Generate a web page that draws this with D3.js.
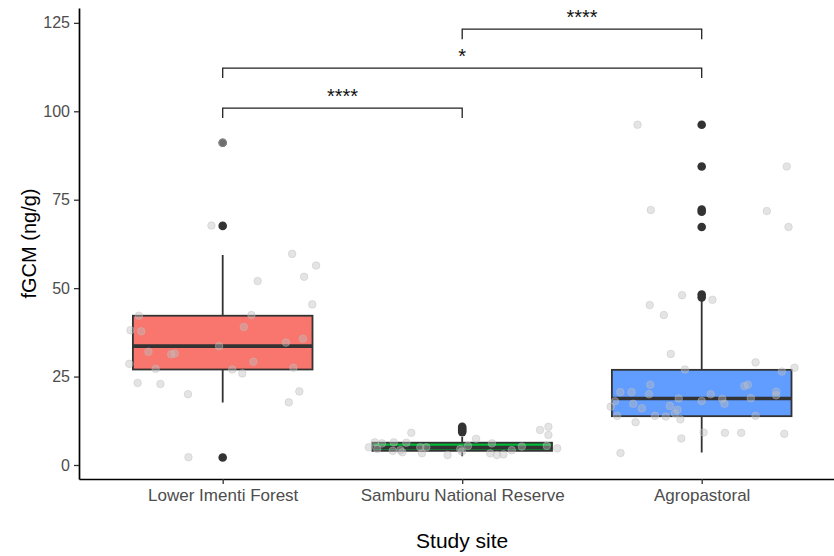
<!DOCTYPE html>
<html>
<head>
<meta charset="utf-8">
<script src="https://cdn.jsdelivr.net/npm/d3@7"></script>
<style>
  body { margin: 0; background: #fff; }
  text { font-family: "Liberation Sans", Arial, sans-serif; }
</style>
</head>
<body>
<script>
const categories = ['Lower Imenti Forest', 'Samburu National Reserve', 'Agropastoral']
const boxColors = ['#F8766D', '#00BA38', '#619CFF']

// box summary, one value per site
const q1 = [27.0, 4.0, 13.8]
const median = [33.6, 4.9, 18.8]
const q3 = [42.2, 6.3, 26.9]
const whiskerLow = [17.7, 2.5, 3.5]
const whiskerHigh = [59.4, 7.9, 46.5]
const outliers = [
  [91.1, 67.6, 2.1],
  [9.3, 9.8, 10.3, 10.8],
  [96.2, 84.4, 72.2, 71.6, 67.3, 48.2, 47.4]
]

// raw samples as [x offset from site, value]
const lowerImentiPoints = [
  [0, 91.1], [-0.047, 67.7], [0.29, 59.7], [0.39, 56.4], [0.34, 53.2], [0.146, 52.0],
  [0.374, 45.4], [-0.35, 42.2], [0.12, 42.4], [-0.385, 38.1], [-0.34, 37.8], [0.088, 39.0],
  [0.335, 35.7], [0.264, 34.6], [-0.015, 33.6], [-0.31, 32.0], [-0.215, 31.3], [-0.2, 31.5],
  [-0.39, 28.6], [0.128, 29.2], [-0.28, 27.2], [0.04, 27.0], [0.082, 25.9], [0.295, 27.5],
  [-0.355, 23.2], [-0.26, 22.9], [0.32, 20.8], [-0.145, 20.0], [0.276, 17.7], [-0.143, 2.2]
]
const samburuPoints = [
  [-0.39, 5.0], [-0.365, 6.4], [-0.335, 6.1], [-0.355, 4.5], [-0.286, 6.4], [-0.29, 4.0],
  [-0.258, 4.2], [-0.25, 3.6], [-0.233, 6.3], [-0.2125, 9.1], [-0.175, 5.0], [-0.168, 3.3],
  [-0.15, 5.0], [-0.061, 2.8], [-0.008, 4.5], [-0.001, 3.8], [0.024, 5.4], [0.058, 7.4],
  [0.124, 6.1], [0.117, 3.3], [0.145, 2.8], [0.172, 3.0], [0.207, 4.2], [0.249, 5.2],
  [0.325, 9.9], [0.36, 10.8], [0.36, 8.5], [0.353, 5.4], [0.397, 4.7]
]
const agropastoralPoints = [
  [-0.268, 96.2], [0.355, 84.4], [-0.2125, 72.1], [0.272, 71.8], [0.3625, 67.3],
  [-0.082, 48.0], [0.045, 46.7], [-0.217, 45.2], [-0.158, 42.4], [-0.129, 31.4], [0.225, 29.0],
  [0.3875, 27.5], [0.335, 26.4], [-0.07, 27.0], [-0.34, 20.6], [-0.293, 20.6], [-0.215, 22.7],
  [-0.22, 20.0], [-0.362, 18.0], [-0.38, 16.5], [-0.286, 17.3], [-0.25, 16.0], [-0.353, 13.9],
  [-0.276, 12.1], [-0.195, 13.9], [-0.15, 13.7], [-0.133, 16.7], [-0.112, 14.6], [-0.101, 15.6],
  [-0.089, 12.9], [-0.096, 18.8], [0.0, 18.1], [0.0375, 20.0], [0.086, 18.7], [0.095, 17.3],
  [0.178, 22.3], [0.193, 22.7], [0.205, 18.9], [0.225, 13.9], [0.311, 20.7], [0.311, 19.7],
  [-0.085, 7.5], [0.008, 9.2], [0.097, 9.1], [0.165, 9.1], [0.345, 8.8], [-0.339, 3.4]
]
const samplePoints = [lowerImentiPoints, samburuPoints, agropastoralPoints]

// significance brackets: [from site, to site, label, height]
const comparisons = [
  [0, 1, '****', 100.9],
  [0, 2, '*', 112.2],
  [1, 2, '****', 123.2]
]
const yTicks = [0, 25, 50, 75, 100, 125]

const width = 834
const height = 556
const boxWidth = 0.75
const bracketTick = 2.8

let svg = d3.select('body')
  .append('svg')
  .attr('width', width)
  .attr('height', height)

let x = d3.scaleLinear()
  .domain([0.4, 3.6])
  .range([79, 845.4])

let y = d3.scaleLinear()
  .domain([-3.96, 129.2])
  .range([479, 8])

let sites = categories.map((name, i) => ({
  name: name,
  pos: i + 1,
  color: boxColors[i],
  q1: q1[i],
  median: median[i],
  q3: q3[i],
  lo: whiskerLow[i],
  hi: whiskerHigh[i],
  outliers: outliers[i]
}))

let boxes = svg.append('g')

// whiskers
boxes.selectAll('.whisker')
  .data(sites)
  .enter()
  .append('path')
  .attr('class', 'whisker')
  .attr('d', d => `M${x(d.pos)},${y(d.hi)}V${y(d.q3)}M${x(d.pos)},${y(d.q1)}V${y(d.lo)}`)
  .attr('stroke', '#333333')
  .attr('stroke-width', 1.8)

boxes.selectAll('.box')
  .data(sites)
  .enter()
  .append('rect')
  .attr('class', 'box')
  .attr('x', d => x(d.pos - boxWidth / 2))
  .attr('width', d => x(d.pos + boxWidth / 2) - x(d.pos - boxWidth / 2))
  .attr('y', d => y(d.q3))
  .attr('height', d => y(d.q1) - y(d.q3))
  .attr('fill', d => d.color)
  .attr('stroke', '#333333')
  .attr('stroke-width', 1.8)

boxes.selectAll('.median')
  .data(sites)
  .enter()
  .append('line')
  .attr('class', 'median')
  .attr('x1', d => x(d.pos - boxWidth / 2))
  .attr('x2', d => x(d.pos + boxWidth / 2))
  .attr('y1', d => y(d.median))
  .attr('y2', d => y(d.median))
  .attr('stroke', '#333333')
  .attr('stroke-width', 3.6)

boxes.selectAll('.outliers')
  .data(sites)
  .enter()
  .append('g')
  .selectAll('circle')
  .data(d => d.outliers.map(v => ({ pos: d.pos, value: v })))
  .enter()
  .append('circle')
  .attr('cx', d => x(d.pos))
  .attr('cy', d => y(d.value))
  .attr('r', 4.3)
  .attr('fill', '#333333')

// jittered samples
svg.append('g')
  .selectAll('g')
  .data(sites)
  .enter()
  .append('g')
  .selectAll('circle')
  .data((d, i) => samplePoints[i].map(p => ({ pos: d.pos + p[0], value: p[1] })))
  .enter()
  .append('circle')
  .attr('cx', d => x(d.pos))
  .attr('cy', d => y(d.value))
  .attr('r', 3.8)
  .attr('fill', '#bebebe')
  .attr('fill-opacity', 0.42)
  .attr('stroke', '#bebebe')
  .attr('stroke-opacity', 0.42)
  .attr('stroke-width', 1)

// significance brackets
let brackets = svg.append('g')

brackets.selectAll('path')
  .data(comparisons)
  .enter()
  .append('path')
  .attr('d', d => `M${x(d[0] + 1)},${y(d[3] - bracketTick)}V${y(d[3])}H${x(d[1] + 1)}V${y(d[3] - bracketTick)}`)
  .attr('fill', 'none')
  .attr('stroke', '#222')
  .attr('stroke-width', 1.3)

brackets.selectAll('text')
  .data(comparisons)
  .enter()
  .append('text')
  .attr('x', d => (x(d[0] + 1) + x(d[1] + 1)) / 2)
  .attr('y', d => y(d[3]) - 5.5)
  .attr('text-anchor', 'middle')
  .attr('font-size', 20)
  .attr('fill', '#111')
  .text(d => d[2])

// axes
let yAxis = svg.append('g')
  .attr('transform', `translate(${x(0.4)},0)`)
  .call(d3.axisLeft(y).tickValues(yTicks).tickSize(5).tickSizeOuter(0).tickPadding(4))

let xAxis = svg.append('g')
  .attr('transform', `translate(0,${y(-3.96)})`)
  .call(d3.axisBottom(x).tickValues([1, 2, 3]).tickFormat(d => categories[d - 1]).tickSize(5).tickSizeOuter(0).tickPadding(5))

for (let axis of [yAxis, xAxis]) {
  axis.select('.domain').attr('stroke', '#000').attr('stroke-width', 1.7)
  axis.selectAll('.tick line').attr('stroke', '#333').attr('stroke-width', 1.3)
  axis.selectAll('.tick text')
    .attr('fill', '#4d4d4d')
    .attr('font-size', 16)
    .attr('font-family', '"Liberation Sans", Arial, sans-serif')
}
xAxis.selectAll('.tick text').attr('font-size', 17)

svg.append('text')
  .attr('transform', `translate(36,${(y(-3.96) + y(129.2)) / 2}) rotate(-90)`)
  .attr('text-anchor', 'middle')
  .attr('font-size', 20)
  .attr('fill', '#000')
  .text('fGCM (ng/g)')

svg.append('text')
  .attr('x', x(2))
  .attr('y', 548)
  .attr('text-anchor', 'middle')
  .attr('font-size', 21)
  .attr('fill', '#000')
  .text('Study site')
</script>
</body>
</html>
